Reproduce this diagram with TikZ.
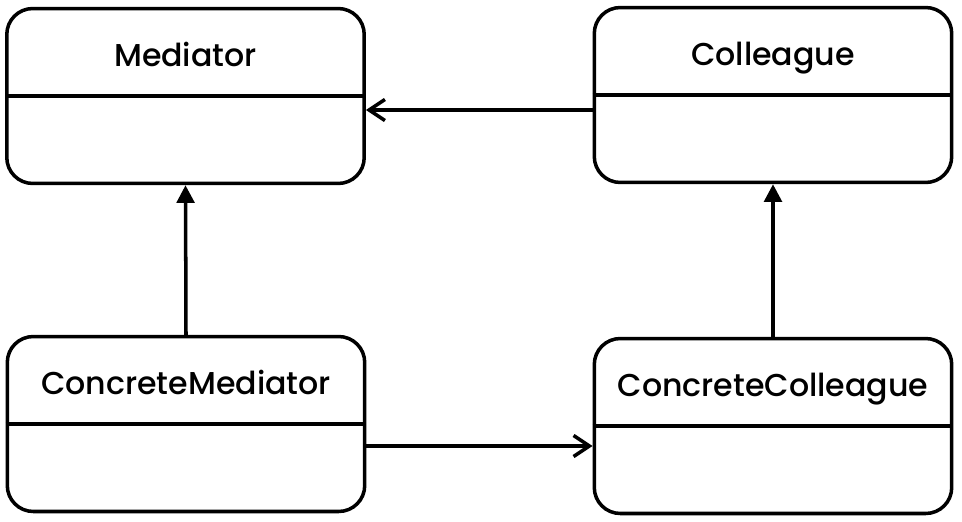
\documentclass[tikz,border=0pt]{standalone}
\usepackage{fontspec}
\setmainfont{Poppins Medium}
\usetikzlibrary{arrows.meta}

\begin{document}
\begin{tikzpicture}[x=0.02cm,y=-0.02cm,
    cls/.style={draw,line width=2pt,rounded corners=0.52cm,minimum width=7.15cm,minimum height=3.5cm},
    title/.style={anchor=base,yshift=0.6cm,font=\fontsize{18}{21}\selectfont},
    inherit/.style={line width=2pt,-{Triangle[length=10pt,width=10pt]}},
    uses/.style={line width=2pt,-{Straight Barb[length=9pt,width=12pt]}}]
  \useasboundingbox (0,0) rectangle (962,521);

  % class boxes
  \node[cls] (med) at (185.5,96) {};
  \node[cls] (col) at (773,95) {};
  \node[cls] (cmed) at (186,424) {};
  \node[cls] (ccol) at (773,426) {};

  \foreach \n in {med,col,cmed,ccol} {
    \draw[line width=2pt] (\n.west) -- (\n.east);
  }

  \node[title] (medname) at (med) {Mediator};
  \node[title] (colname) at (col) {Colleague};
  \node[title] (cmedname) at (cmed) {ConcreteMediator};
  \node[title] (ccolname) at (ccol) {ConcreteColleague};

  % connectors
  \draw[uses] (col.west |- 0,110) -- (med.east |- 0,110);
  \draw[uses] (cmed.east |- 0,446) -- (ccol.west |- 0,446);
  \draw[inherit] (cmed.north) -- (med.south);
  \draw[inherit] (ccol.north) -- (col.south);
\end{tikzpicture}
\end{document}
